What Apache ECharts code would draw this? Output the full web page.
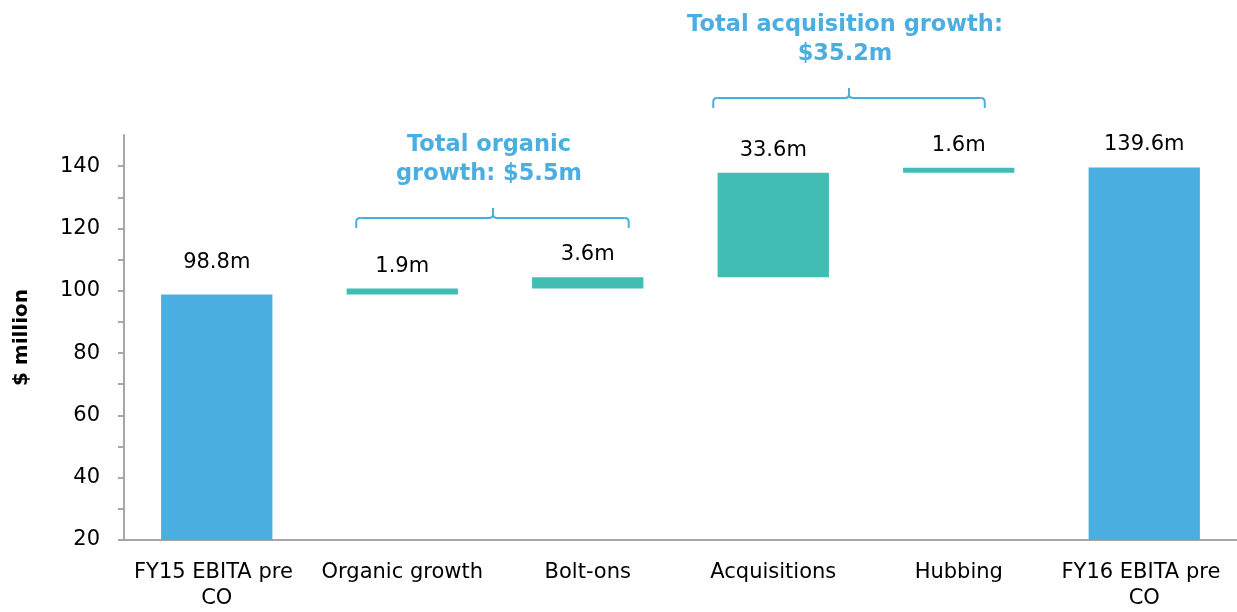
<!DOCTYPE html>
<html>
<head>
<meta charset="utf-8">
<script src="https://cdn.jsdelivr.net/npm/echarts@6/dist/echarts.min.js"></script>
<style>
  html, body { margin: 0; padding: 0; background: #fff; }
  #chart { width: 1237px; height: 612px; }
</style>
</head>
<body>
<div id="chart"></div>
<script>
// chart data
var categories = ['FY15 EBITA pre CO', 'Organic growth', 'Bolt-ons', 'Acquisitions', 'Hubbing', 'FY16 EBITA pre CO'];
var amounts = [98.8, 1.9, 3.6, 33.6, 1.6, 139.6];
var isTotal = [true, false, false, false, false, true];
var yLabelValues = [20, 40, 60, 80, 100, 120, 140];
var yTickValues = [20, 30, 40, 50, 60, 70, 80, 90, 100, 110, 120, 130, 140];
var groupTexts = ['Total organic\ngrowth: $5.5m', 'Total acquisition growth:\n$35.2m'];
var groupFrom = [1, 3];
var groupTo = [2, 4];

var blue = '#4aaee0';
var teal = '#41bdb3';
var font = 'DejaVu Sans';

// invisible base for the floating bars
var running = 0;
var baseData = amounts.map(function (v, i) {
    if (isTotal[i]) {
        running = v;
        return 0;
    }
    var b = running;
    running += v;
    return b;
});

var chart = echarts.init(document.getElementById('chart'));

var option = {
    animation: false,
    grid: { left: 124, right: 0, top: 135, bottom: 72 },
    xAxis: {
        type: 'category',
        data: categories,
        axisLine: { lineStyle: { color: '#a6a6a6', width: 2 } },
        axisTick: { show: false },
        axisLabel: {
            interval: 0,
            margin: 20,
            color: '#000',
            fontFamily: font,
            fontSize: 21,
            lineHeight: 26,
            width: 176,
            overflow: 'break'
        }
    },
    yAxis: {
        type: 'value',
        min: 20,
        max: 150,
        interval: 10,
        name: '$ million',
        nameLocation: 'middle',
        nameGap: 92,
        nameRotate: 90,
        nameTextStyle: { color: '#000', fontFamily: font, fontSize: 20, fontWeight: 'bold' },
        axisLine: { show: true, lineStyle: { color: '#a6a6a6', width: 2 } },
        axisTick: {
            show: true,
            length: 6,
            customValues: yTickValues,
            lineStyle: { color: '#a6a6a6', width: 2 }
        },
        axisLabel: {
            margin: 24,
            color: '#000',
            fontFamily: font,
            fontSize: 21,
            customValues: yLabelValues
        },
        splitLine: { show: false }
    },
    series: [
        {
            name: 'base',
            type: 'bar',
            stack: 'w',
            barWidth: '60%',
            itemStyle: { color: 'transparent' },
            emphasis: { disabled: true },
            data: baseData
        },
        {
            name: 'value',
            type: 'bar',
            stack: 'w',
            barWidth: '60%',
            data: amounts.map(function (v, i) {
                var d = { value: v, itemStyle: { color: isTotal[i] ? blue : teal } };
                if (i === 0) d.label = { distance: 21 };
                return d;
            }),
            label: {
                show: true,
                position: 'top',
                distance: 12,
                color: '#000',
                fontFamily: font,
                fontSize: 21,
                formatter: function (p) { return p.value + 'm'; }
            }
        }
    ]
};

chart.setOption(option);

// braces and group captions placed from the category positions
var braceY = [218, 98];
var braceIn = [[46, 41], [60, 26]];
var graphics = [];
function seg(x1, y1, x2, y2) {
    return { type: 'line', shape: { x1: x1, y1: y1, x2: x2, y2: y2 }, style: { stroke: blue, lineWidth: 2 } };
}
function curve(x1, y1, cx, cy, x2, y2) {
    return {
        type: 'bezierCurve',
        shape: { x1: x1, y1: y1, cpx1: cx, cpy1: cy, x2: x2, y2: y2 },
        style: { stroke: blue, lineWidth: 2, fill: 'none' }
    };
}
groupTexts.forEach(function (txt, g) {
    var xa = chart.convertToPixel({ xAxisIndex: 0 }, groupFrom[g]) - braceIn[g][0];
    var xb = chart.convertToPixel({ xAxisIndex: 0 }, groupTo[g]) + braceIn[g][1];
    var xm = Math.round((xa + xb) / 2);
    var y = braceY[g];
    graphics.push(seg(xa, y + 10, xa, y + 4));
    graphics.push(curve(xa, y + 4, xa, y, xa + 4, y));
    graphics.push(seg(xa + 4, y, xm - 4, y));
    graphics.push(curve(xm - 4, y, xm, y, xm, y - 4));
    graphics.push(seg(xm, y - 4, xm, y - 10));
    graphics.push(curve(xm, y - 4, xm, y, xm + 4, y));
    graphics.push(seg(xm + 4, y, xb - 4, y));
    graphics.push(curve(xb - 4, y, xb, y, xb, y + 4));
    graphics.push(seg(xb, y + 4, xb, y + 10));
    graphics.push({
        type: 'text',
        x: xm - 4,
        y: y - 29,
        style: {
            text: txt,
            fill: blue,
            font: 'bold 22.5px "' + font + '"',
            lineHeight: 29,
            align: 'center',
            verticalAlign: 'bottom'
        }
    });
});
chart.setOption({ graphic: graphics });
</script>
</body>
</html>
